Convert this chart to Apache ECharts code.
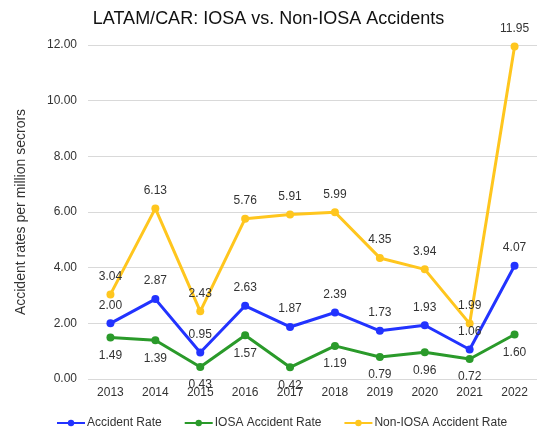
<!DOCTYPE html>
<html>
<head>
<meta charset="utf-8">
<script src="https://cdn.jsdelivr.net/npm/echarts@6/dist/echarts.min.js"></script>
<style>
  html, body { margin: 0; padding: 0; background: #fff; }
  #chart { width: 537px; height: 431px; }
</style>
</head>
<body>
<div id="chart"></div>
<script>
// data
var years = ['2013', '2014', '2015', '2016', '2017', '2018', '2019', '2020', '2021', '2022']
var accidentRate = [2.00, 2.87, 0.95, 2.63, 1.87, 2.39, 1.73, 1.93, 1.06, 4.07]
var iosaRate = [1.49, 1.39, 0.43, 1.57, 0.42, 1.19, 0.79, 0.96, 0.72, 1.60]
var nonIosaRate = [3.04, 6.13, 2.43, 5.76, 5.91, 5.99, 4.35, 3.94, 1.99, 11.95]

var chartColor = ['#2233ff', '#2a9a2a', '#ffc61e']
var font = 'Liberation Sans, Arial, sans-serif'

function makeSeries(name, data, color, labelPos) {
  return {
    name: name,
    type: 'line',
    data: data,
    symbol: 'circle',
    symbolSize: 8,
    itemStyle: { color: color },
    lineStyle: { color: color, width: 3 },
    label: {
      show: true,
      position: labelPos,
      distance: 8,
      color: '#333',
      fontSize: 12,
      fontFamily: font,
      formatter: function (p) { return p.value.toFixed(2) }
    },
    animation: false
  }
}

var chart = echarts.init(document.getElementById('chart'))
chart.setOption({
  title: {
    text: 'LATAM/CAR: IOSA vs. Non-IOSA Accidents',
    left: 'center',
    top: 5,
    textStyle: { fontSize: 18, fontWeight: 'normal', color: '#111', fontFamily: font }
  },
  grid: {
    left: 88,
    right: 0,
    top: 45,
    bottom: 52
  },
  legend: {
    left: 51,
    top: 412,
    itemWidth: 28,
    itemHeight: 8,
    itemGap: 22,
    textStyle: { fontSize: 12, color: '#333', fontFamily: font, padding: [0, 0, 0, -3] },
    data: ['Accident Rate', 'IOSA Accident Rate', 'Non-IOSA Accident Rate']
  },
  xAxis: {
    type: 'category',
    data: years,
    axisLine: { show: false },
    axisTick: { show: false },
    axisLabel: { color: '#333', fontSize: 12, fontFamily: font, margin: 8 }
  },
  yAxis: {
    type: 'value',
    min: 0,
    max: 12,
    interval: 2,
    name: 'Accident rates per million secrors',
    nameLocation: 'middle',
    nameGap: 60,
    nameTextStyle: { fontSize: 14, color: '#333', fontFamily: font },
    axisLabel: {
      color: '#333',
      fontSize: 12,
      fontFamily: font,
      margin: 11,
      formatter: function (v) { return v.toFixed(2) }
    },
    splitLine: { lineStyle: { color: '#d9d9d9', width: 1 } }
  },
  series: [
    makeSeries('Accident Rate', accidentRate, chartColor[0], 'top'),
    makeSeries('IOSA Accident Rate', iosaRate, chartColor[1], 'bottom'),
    makeSeries('Non-IOSA Accident Rate', nonIosaRate, chartColor[2], 'top')
  ]
})
</script>
</body>
</html>
